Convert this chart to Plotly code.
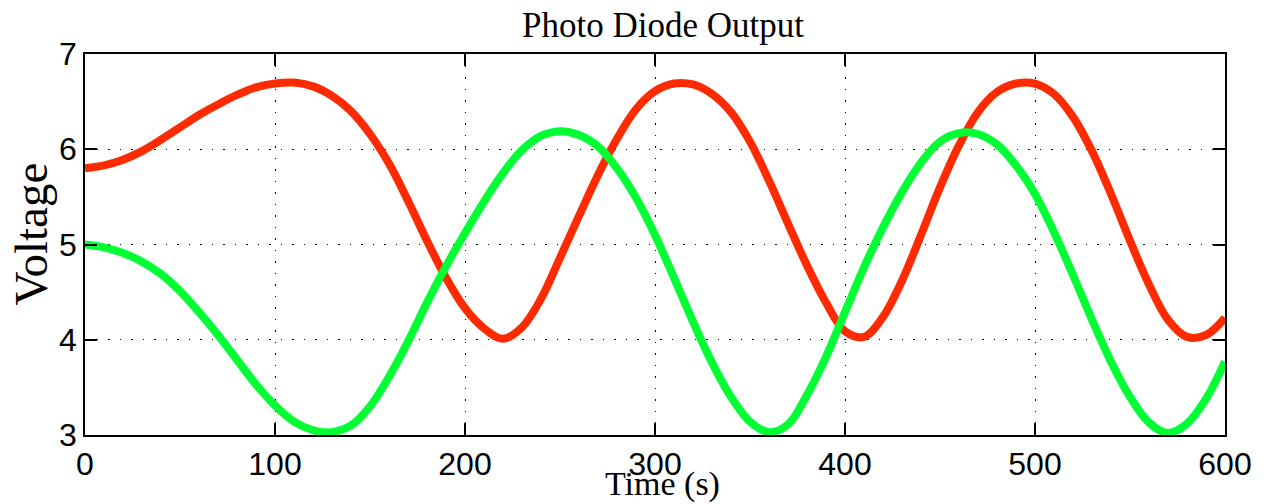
import plotly.graph_objects as go

# Sample times (s)
time_s = [0, 10, 20, 30, 40, 50, 60, 70, 80, 90,
          100, 110, 120, 130, 140, 150, 160, 170, 180, 190,
          200, 210, 220, 230, 240, 250, 260, 270, 280, 290,
          300, 310, 320, 330, 340, 350, 360, 370, 380, 390,
          400, 410, 420, 430, 440, 450, 460, 470, 480, 490,
          500, 510, 520, 530, 540, 550, 560, 570, 580, 590, 600]

# Photodiode 1 voltage (red)
voltage_red = [5.80, 5.83, 5.89, 5.98, 6.10, 6.23, 6.36, 6.47, 6.57, 6.65,
               6.69, 6.70, 6.66, 6.56, 6.40, 6.16, 5.85, 5.46, 5.04, 4.65,
               4.33, 4.12, 4.01, 4.13, 4.43, 4.86, 5.30, 5.73, 6.11, 6.42,
               6.61, 6.69, 6.68, 6.58, 6.39, 6.08, 5.67, 5.22, 4.78, 4.39,
               4.09, 4.03, 4.24, 4.62, 5.10, 5.60, 6.04, 6.39, 6.60, 6.69,
               6.69, 6.58, 6.34, 5.98, 5.53, 5.04, 4.58, 4.21, 4.03, 4.05, 4.23]

# Photodiode 2 voltage (green)
voltage_green = [5.00, 4.97, 4.91, 4.82, 4.69, 4.51, 4.29, 4.05, 3.79, 3.53,
                 3.31, 3.14, 3.05, 3.03, 3.10, 3.30, 3.61, 3.98, 4.39, 4.77,
                 5.12, 5.45, 5.75, 5.99, 6.14, 6.19, 6.15, 6.03, 5.80, 5.49,
                 5.10, 4.65, 4.19, 3.76, 3.40, 3.14, 3.03, 3.11, 3.42, 3.82,
                 4.29, 4.76, 5.18, 5.55, 5.86, 6.08, 6.17, 6.16, 6.05, 5.83,
                 5.53, 5.13, 4.68, 4.21, 3.77, 3.40, 3.13, 3.02, 3.12, 3.38, 3.77]

x_ticks = [0, 100, 200, 300, 400, 500, 600]
y_ticks = [3, 4, 5, 6, 7]

fig = go.Figure()
fig.add_trace(go.Scatter(x=time_s, y=voltage_red, mode="lines",
                         line=dict(color="#ff2a00", width=8, shape="spline", smoothing=1.0),
                         showlegend=False))
fig.add_trace(go.Scatter(x=time_s, y=voltage_green, mode="lines",
                         line=dict(color="#00ff33", width=8, shape="spline", smoothing=1.0),
                         showlegend=False))

axis_common = dict(
    showline=True, linecolor="black", linewidth=1.6, mirror="allticks",
    ticks="inside", ticklen=12, tickwidth=1.5, tickcolor="black",
    showgrid=True, gridcolor="black", gridwidth=1, griddash="1.5px,10px",
    zeroline=False,
    tickfont=dict(family="Liberation Sans, Arial, sans-serif", size=32, color="black"),
)

fig.update_xaxes(range=[0, 600], tickvals=x_ticks, ticktext=[str(v) for v in x_ticks],
                 **axis_common)
fig.update_yaxes(range=[3, 7], tickvals=y_ticks, ticktext=[str(v) for v in y_ticks],
                 **axis_common)

serif = "Liberation Serif, Times New Roman, serif"
fig.add_annotation(text="Photo Diode Output", xref="paper", yref="paper",
                   x=0.5074, y=1.0748, xanchor="center", yanchor="middle",
                   showarrow=False, font=dict(family=serif, size=35, color="black"))
fig.add_annotation(text="Time (s)", xref="paper", yref="paper",
                   x=0.5066, y=-0.129, xanchor="center", yanchor="middle",
                   showarrow=False, font=dict(family=serif, size=34, color="black"))
fig.add_annotation(text="Voltage", xref="paper", yref="paper",
                   x=-0.0472, y=0.527, xanchor="center", yanchor="middle",
                   textangle=-90, showarrow=False,
                   font=dict(family=serif, size=47, color="black"))

fig.update_layout(
    width=1264, height=504,
    margin=dict(l=85, r=34, t=54, b=69),
    paper_bgcolor="white", plot_bgcolor="white",
)

fig.write_html("out.html")
